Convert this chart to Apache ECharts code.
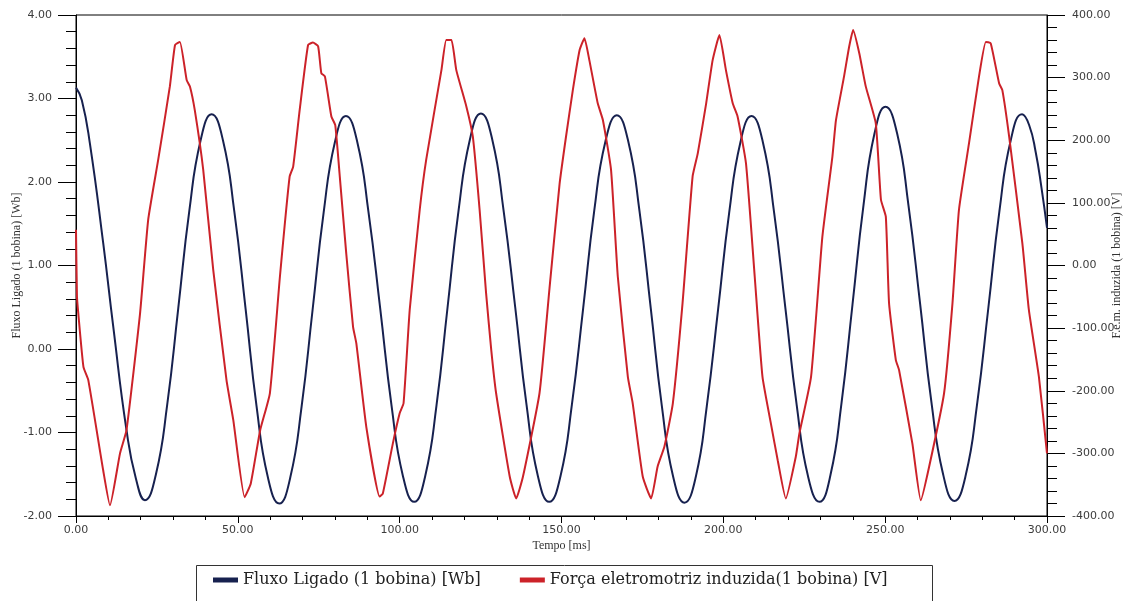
<!DOCTYPE html>
<html>
<head>
<meta charset="utf-8">
<script src="https://cdn.jsdelivr.net/npm/echarts@6/dist/echarts.min.js"></script>
<style>
  html, body { margin: 0; padding: 0; background: #fff; }
  #chart { width: 1133px; height: 601px; }
</style>
</head>
<body>
<div id="chart"></div>
<script>
// Fluxo ligado [Wb] vs tempo [ms]
const fluxData = [
  [0, 3.13], [1.8, 2.98], [4.3, 2.46], [8.4, 1.27], [11.5, 0.27], [15.6, -0.97], [18.5, -1.55], [21.3, -1.81],
  [24.7, -1.50], [28.2, -0.66], [31.6, 0.49], [35.0, 1.65], [38.5, 2.50], [41.9, 2.81],
  [45.4, 2.50], [48.9, 1.65], [52.4, 0.48], [55.8, -0.69], [59.3, -1.54], [62.8, -1.85],
  [66.2, -1.54], [69.7, -0.69], [73.1, 0.47], [76.5, 1.63], [80.0, 2.48], [83.4, 2.79],
  [86.9, 2.48], [90.4, 1.63], [94.0, 0.48], [97.5, -0.68], [101.0, -1.52], [104.5, -1.83],
  [107.9, -1.52], [111.4, -0.67], [114.8, 0.50], [118.2, 1.66], [121.7, 2.51], [125.1, 2.82],
  [128.6, 2.51], [132.1, 1.66], [135.7, 0.50], [139.2, -0.67], [142.7, -1.52], [146.2, -1.83],
  [149.7, -1.52], [153.2, -0.67], [156.7, 0.49], [160.1, 1.65], [163.6, 2.49], [167.1, 2.80],
  [170.6, 2.49], [174.1, 1.65], [177.6, 0.48], [181.0, -0.68], [184.5, -1.53], [188.0, -1.84],
  [191.5, -1.53], [194.9, -0.68], [198.4, 0.48], [201.8, 1.63], [205.3, 2.48], [208.7, 2.79],
  [212.2, 2.48], [215.7, 1.63], [219.2, 0.48], [222.7, -0.68], [226.2, -1.53], [229.7, -1.83],
  [233.1, -1.51], [236.5, -0.65], [239.9, 0.53], [243.3, 1.72], [246.7, 2.58], [250.1, 2.90],
  [253.7, 2.58], [257.2, 1.72], [260.8, 0.54], [264.3, -0.64], [267.9, -1.50], [271.4, -1.82],
  [274.9, -1.51], [278.4, -0.66], [281.9, 0.50], [285.3, 1.65], [288.8, 2.50], [292.3, 2.81],
  [294.5, 2.68], [296.5, 2.36], [298.3, 1.93], [300, 1.45]
];

// Força eletromotriz induzida [V] vs tempo [ms]
const emfData = [
  [0, 57], [0.3, -50], [0.7, -76], [2.3, -162], [3.8, -183], [8.4, -327], [10.5, -383], [13.6, -300],
  [15.6, -263], [19.8, -76], [22.3, 73], [25.4, 169], [29, 286], [30.6, 352], [32.1, 357], [34.2, 296],
  [35.2, 286], [36.7, 248], [39.3, 153], [42.4, -7], [46.5, -183], [48.6, -247], [52.1, -370], [54, -348],
  [56.9, -263], [59.9, -204], [63, -18], [66, 142], [67.1, 158], [69.1, 248], [71.7, 352], [73.2, 356],
  [74.8, 350], [75.8, 307], [76.9, 302], [78.9, 238], [80.1, 224], [81.5, 142], [83.5, 19], [85.6, -98],
  [86.6, -124], [89.7, -258], [93.8, -369], [94.8, -364], [97.9, -284], [100, -236], [101.2, -220],
  [103.1, -71], [106.2, 89], [108.2, 169], [112.9, 312], [114.4, 360], [116, 360], [117.5, 312],
  [120.6, 254], [122.6, 206], [124.7, 89], [126.7, -44], [128.3, -135], [129.8, -204], [134, -337],
  [136, -372], [138.1, -337], [143.2, -204], [146.3, -36], [149.4, 130], [151.4, 206], [153.5, 280],
  [155.6, 344], [157.1, 363], [158.6, 328], [161.2, 259], [162.8, 232], [165.3, 153], [167.4, -18],
  [170.5, -178], [172, -220], [175.1, -337], [177.7, -372], [179.7, -321], [181.8, -289], [184.4, -220],
  [187.4, -60], [190.5, 142], [192.1, 179], [194.7, 259], [196.7, 328], [198.8, 368], [200.8, 312],
  [202.9, 259], [204.4, 238], [207, 163], [209.7, -18], [212.1, -178], [214.9, -258], [216.8, -311],
  [219.3, -372], [222.4, -305], [223.5, -268], [227.1, -178], [230.6, 46], [233.7, 174], [234.8, 232],
  [237.3, 302], [238.9, 350], [240.1, 376], [242, 339], [244, 286], [247.1, 227], [248.7, 105],
  [250.2, 78], [251.2, -60], [253.3, -151], [254.3, -167], [258.4, -284], [261, -375], [263.6, -321],
  [268.2, -204], [270.8, -60], [272.8, 89], [275.9, 195], [279, 302], [281.1, 357], [282.6, 355],
  [285.2, 291], [286.2, 280], [288.3, 206], [292.4, 35], [294.4, -71], [297.5, -178], [300, -300]
];

const seriesNames = ['Fluxo Ligado (1 bobina) [Wb]', 'Força eletromotriz induzida(1 bobina) [V]'];
const axisNames = ['Tempo [ms]', 'Fluxo Ligado (1 bobina) [Wb]', 'F.e.m. induzida (1 bobina) [V]'];

const NAVY = '#17214f';
const RED = '#cc2229';
const labelStyle = { color: '#3c3c3c', fontFamily: 'DejaVu Sans', fontSize: 11 };
const nameStyle = { color: '#333', fontFamily: 'Liberation Serif', fontSize: 12 };
const fmt = (v) => v.toFixed(2);

const chart = echarts.init(document.getElementById('chart'), null, { renderer: 'canvas' });

chart.setOption({
  backgroundColor: '#fff',
  animation: false,
  grid: {
    left: 76, right: 86, top: 15, bottom: 85,
    outerBoundsMode: 'none', containLabel: false,
    show: true, borderColor: '#000', borderWidth: 1, backgroundColor: 'transparent'
  },
  // legend frame (the original box runs off the bottom edge)
  graphic: [{
    type: 'rect', left: 196, top: 565, z: 0,
    shape: { width: 736, height: 50 },
    style: { fill: '#fff', stroke: '#333', lineWidth: 1 }
  }],
  legend: {
    data: seriesNames,
    left: 196, top: 565,
    padding: [7, 17, 20, 17],
    itemWidth: 25, itemHeight: 5, itemGap: 39,
    icon: 'rect', z: 5,
    textStyle: { color: '#222', fontFamily: 'DejaVu Serif', fontSize: 16 }
  },
  xAxis: {
    type: 'value', min: 0, max: 300, interval: 50,
    name: axisNames[0], nameLocation: 'middle', nameGap: 24, nameMoveOverlap: false,
    nameTextStyle: nameStyle,
    axisLine: { onZero: false, lineStyle: { color: '#000', width: 1 } },
    axisTick: { show: true, length: 7, lineStyle: { color: '#000' } },
    minorTick: { show: true, splitNumber: 5, length: 4, lineStyle: { color: '#000' } },
    splitLine: { show: false },
    axisLabel: { ...labelStyle, margin: 9, formatter: fmt }
  },
  yAxis: [
    {
      type: 'value', min: -2, max: 4, interval: 1, position: 'left',
      name: axisNames[1], nameLocation: 'middle', nameGap: 53, nameMoveOverlap: false,
      nameTextStyle: nameStyle,
      axisLine: { show: true, onZero: false, lineStyle: { color: '#000', width: 1 } },
      axisTick: { show: true, length: 18, lineStyle: { color: '#000' } },
      minorTick: { show: true, splitNumber: 5, length: 10, lineStyle: { color: '#000' } },
      splitLine: { show: false },
      axisLabel: { ...labelStyle, margin: 24, formatter: fmt }
    },
    {
      type: 'value', min: -400, max: 400, interval: 100, position: 'right',
      name: axisNames[2], nameLocation: 'middle', nameGap: 64, nameMoveOverlap: false,
      nameTextStyle: nameStyle,
      axisLine: { show: true, onZero: false, lineStyle: { color: '#000', width: 1 } },
      axisTick: { show: true, length: 18, lineStyle: { color: '#000' } },
      minorTick: { show: true, splitNumber: 5, length: 10, lineStyle: { color: '#000' } },
      splitLine: { show: false },
      axisLabel: { ...labelStyle, margin: 25, formatter: fmt }
    }
  ],
  series: [
    {
      name: seriesNames[0], type: 'line', yAxisIndex: 0,
      data: fluxData, showSymbol: false, smooth: true,
      lineStyle: { color: NAVY, width: 2 }, itemStyle: { color: NAVY }
    },
    {
      name: seriesNames[1], type: 'line', yAxisIndex: 1,
      data: emfData, showSymbol: false, smooth: 0.15,
      lineStyle: { color: RED, width: 2 }, itemStyle: { color: RED }
    }
  ]
});
</script>
</body>
</html>
